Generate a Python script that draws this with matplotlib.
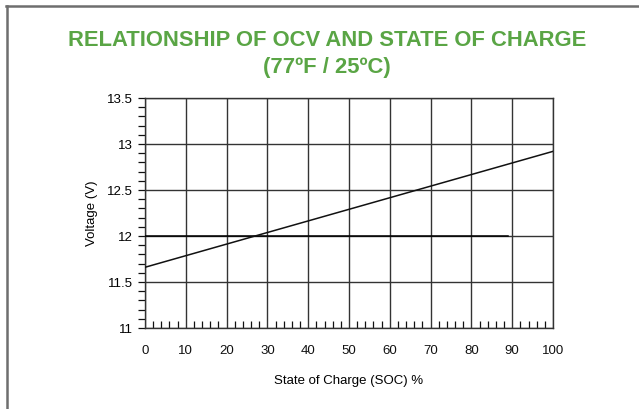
import matplotlib.pyplot as plt
from matplotlib.lines import Line2D
from matplotlib.ticker import MultipleLocator

# Werte
soc = [0, 100]
ocv = [11.66, 12.92]
ref_soc = [0, 89]
ref_v = [12.0, 12.0]

x_ticks = [0, 10, 20, 30, 40, 50, 60, 70, 80, 90, 100]
y_ticks = [11, 11.5, 12, 12.5, 13, 13.5]
y_labels = ['11', '11.5', '12', '12.5', '13', '13.5']

plt.rcParams['font.family'] = ['Liberation Sans', 'DejaVu Sans']

fig = plt.figure(figsize=(6.39, 4.09), dpi=100)
ax = fig.add_axes([145 / 639, 1 - 328 / 409, 408 / 639, 230 / 409])

ax.plot(ref_soc, ref_v, color='#000000', lw=1.1, zorder=3)
ax.plot(soc, ocv, color='#111111', lw=1.1, zorder=4)

ax.set_xlim(0, 100)
ax.set_ylim(11, 13.5)
ax.set_xticks(x_ticks)
ax.set_yticks(y_ticks)
ax.set_yticklabels(y_labels)
ax.xaxis.set_minor_locator(MultipleLocator(2))
ax.yaxis.set_minor_locator(MultipleLocator(0.1))
ax.grid(True, which='major', color='#333333', lw=1.0)
ax.set_axisbelow(True)

ax.tick_params(axis='x', which='major', length=0, pad=12, labelsize=9.5,
               colors='#111111')
ax.tick_params(axis='x', which='minor', direction='in', length=5,
               color='#111111', width=0.9)
ax.tick_params(axis='y', which='major', direction='out', length=5, pad=4,
               labelsize=9.5, color='#111111', width=0.9)
ax.tick_params(axis='y', which='minor', direction='out', length=5,
               color='#111111', width=0.9)
for s in ax.spines.values():
    s.set_color('#333333')
    s.set_linewidth(1.0)

ax.set_ylabel('Voltage (V)', fontsize=9.5, labelpad=6)
ax.set_xlabel('State of Charge (SOC) %', fontsize=9.5, labelpad=13)

fig.text(0.512, 1 - 40 / 409, 'RELATIONSHIP OF OCV AND STATE OF CHARGE',
         ha='center', va='center', fontsize=15.8, fontweight='bold',
         color='#5aa545')
fig.text(0.512, 1 - 68 / 409, '(77ºF / 25ºC)', ha='center', va='center',
         fontsize=15.8, fontweight='bold', color='#5aa545')

# grauer Rahmen oben und links
fig.add_artist(Line2D([7 / 639, 7 / 639], [0, 1 - 6 / 409],
                      transform=fig.transFigure, color='#6e6e6e', lw=1.8))
fig.add_artist(Line2D([6 / 639, 1], [1 - 6 / 409, 1 - 6 / 409],
                      transform=fig.transFigure, color='#6e6e6e', lw=1.8))

fig.savefig('out.png', dpi=100)
